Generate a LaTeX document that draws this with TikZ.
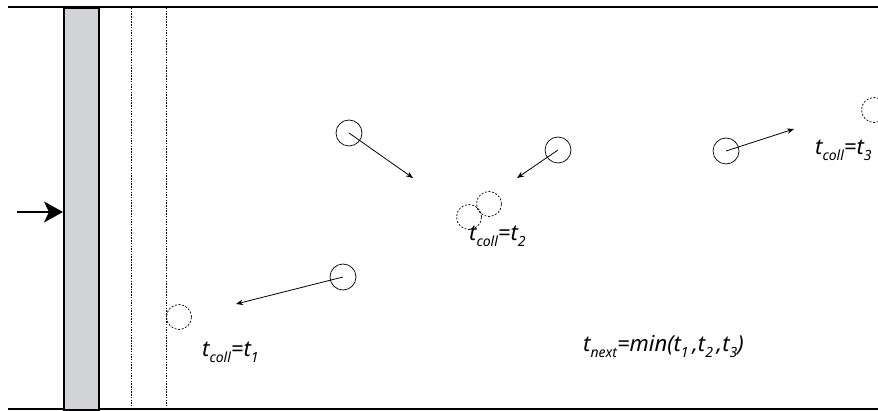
\documentclass[tikz,border=0pt]{standalone}
\usepackage{fontspec}
\setmainfont{Noto Sans}
\usetikzlibrary{arrows.meta}
\definecolor{wallgray}{RGB}{210,211,214}
\newcommand{\sbs}[1]{\raisebox{-0.5ex}{\fontsize{14}{14}\selectfont #1}}
\tikzset{
  ball/.style={circle,draw,line width=0.7pt,minimum size=26pt,inner sep=0pt},
  ghost/.style={circle,draw,line width=0.7pt,dash pattern=on 2pt off 1.6pt,minimum size=25pt,inner sep=0pt},
  vel/.style={line width=0.8pt,-{Stealth[length=7pt,width=5.5pt]}},
  lbl/.style={anchor=base west,inner sep=0pt,font=\fontsize{22}{22}\selectfont\itshape},
  guide/.style={line width=0.8pt,dash pattern=on 1.5pt off 1.2pt},
}
\begin{document}
\begin{tikzpicture}[x=1pt,y=-1pt]
\useasboundingbox (0,0) rectangle (878,411);
% walls
\draw[line width=1.8pt] (8,7) -- (878,7);
\draw[line width=1.8pt] (8,409) -- (878,409);
\node[draw,fill=wallgray,line width=1.8pt,minimum width=35pt,minimum height=402pt,inner sep=0pt,anchor=north west] (piston) at (63,7) {};
\draw[guide] (131,8) -- (131,408);
\draw[guide] (166,8) -- (166,408);
% push arrow
\coordinate (pushstart) at (17,212);
\draw[line width=1.8pt,-{Stealth[length=19pt,width=21pt,inset=5pt]}] (pushstart) -- (piston.west |- pushstart);
% balls
\node[ball] (b1) at (349,133) {};
\coordinate (e1) at (413,178);
\draw[vel] (b1.center) -- (e1);
\node[ball] (b2) at (558,150) {};
\coordinate (e2) at (517,178);
\draw[vel] (b2.center) -- (e2);
\node[ghost] (g2a) at (469,217) {};
\node[ghost] (g2b) at (489,204) {};
\node[ball] (b3) at (726,151) {};
\coordinate (e3) at (794,129);
\draw[vel] (b3.center) -- (e3);
\node[ghost] (g3) at (874,110) {};
\node[ball] (b4) at (343,277) {};
\coordinate (e4) at (236,304);
\draw[vel] (b4.center) -- (e4);
\node[ghost] (g1) at (179,317) {};
% labels
\node[lbl] (l2) at (469,241) {t\sbs{coll}=t\sbs{2}};
\node[lbl] (l3) at (815,155) {t\sbs{coll}=t\sbs{3}};
\node[lbl] (l1) at (202,357) {t\sbs{coll}=t\sbs{1}};
\node[lbl] (ln) at (583,352) {t\sbs{next}=min(t\sbs{1}\,,t\sbs{2}\,,t\sbs{3})};
\end{tikzpicture}
\end{document}
